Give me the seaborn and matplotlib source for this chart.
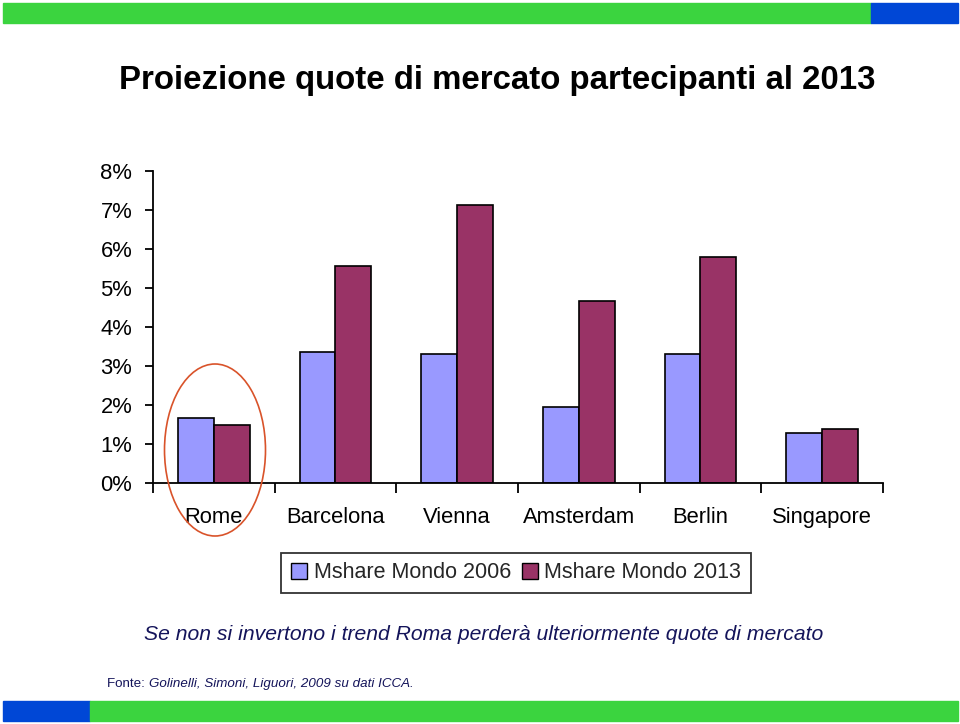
import numpy as np
import pandas as pd
import matplotlib.pyplot as plt
import seaborn as sns
from matplotlib.patches import Rectangle, Ellipse, Patch

# data (percent of world market)
cities = ['Rome', 'Barcelona', 'Vienna', 'Amsterdam', 'Berlin', 'Singapore']
share_2006 = [1.66, 3.36, 3.31, 1.96, 3.31, 1.27]
share_2013 = [1.48, 5.56, 7.13, 4.67, 5.79, 1.39]
series = ['Mshare Mondo 2006', 'Mshare Mondo 2013']
y_ticks = [0, 1, 2, 3, 4, 5, 6, 7, 8]

sns.set_style('white')
plt.rcParams['font.family'] = ['Liberation Sans', 'DejaVu Sans']

df = pd.DataFrame({
    'city': cities * 2,
    'share': share_2006 + share_2013,
    'serie': [series[0]] * len(cities) + [series[1]] * len(cities),
})
colors = {series[0]: '#9999ff', series[1]: '#993366'}

fig = plt.figure(figsize=(9.6, 7.24), dpi=100)
ax = fig.add_axes([153 / 960, 1 - 483 / 724, 730 / 960, 312 / 724])

sns.barplot(data=df, x='city', y='share', hue='serie', palette=colors,
            width=0.59, edgecolor='black', linewidth=1.2, saturation=1,
            legend=False, ax=ax)

ax.set_xlim(-0.5, len(cities) - 0.5)
ax.set_ylim(0, 8)
ax.set_yticks(y_ticks)
ax.set_yticklabels([f'{v}%' for v in y_ticks])
ax.set_xticks(np.arange(-0.5, len(cities), 1), minor=True)
ax.set_xlabel('')
ax.set_ylabel('')

for s in ['top', 'right']:
    ax.spines[s].set_visible(False)
for s in ['left', 'bottom']:
    ax.spines[s].set_color('black')
    ax.spines[s].set_linewidth(1.3)

ax.tick_params(axis='y', which='major', left=True, length=6, width=1.3,
               pad=9, labelsize=15.8, colors='black')
ax.tick_params(axis='x', which='major', length=0, pad=17, labelsize=15.8,
               colors='black')
ax.tick_params(axis='x', which='minor', bottom=True, length=7, width=1.3,
               color='black')

# legend
handles = [Patch(facecolor=colors[s], edgecolor='black', linewidth=1) for s in series]
leg = fig.legend(handles, series, loc='center', bbox_to_anchor=(516 / 960, 1 - 573 / 724),
                 ncol=2, fontsize=15.5, frameon=True, fancybox=False,
                 handlelength=0.75, handleheight=0.75, handletextpad=0.3,
                 columnspacing=0.5, borderpad=0.45, borderaxespad=0)
leg.get_frame().set_edgecolor('black')
leg.get_frame().set_linewidth(1.3)

# red circle around Rome
fig.patches.append(Ellipse((215 / 960, 1 - 450 / 724), 101 / 960, 172 / 724,
                           transform=fig.transFigure, fill=False,
                           edgecolor='#d9532a', linewidth=1.2))

# decorative bands top and bottom
fig.patches.append(Rectangle((3 / 960, 1 - 23 / 724), 868 / 960, 20 / 724,
                             transform=fig.transFigure, color='#3bd43f'))
fig.patches.append(Rectangle((871 / 960, 1 - 23 / 724), 87 / 960, 20 / 724,
                             transform=fig.transFigure, color='#0047d6'))
fig.patches.append(Rectangle((3 / 960, 1 - 721 / 724), 87 / 960, 20 / 724,
                             transform=fig.transFigure, color='#0047d6'))
fig.patches.append(Rectangle((90 / 960, 1 - 721 / 724), 868 / 960, 20 / 724,
                             transform=fig.transFigure, color='#3bd43f'))

fig.text(497 / 960, 1 - 80 / 724, 'Proiezione quote di mercato partecipanti al 2013',
         ha='center', va='center', fontsize=23.8, fontweight='bold', color='black')
fig.text(484 / 960, 1 - 635 / 724,
         'Se non si invertono i trend Roma perderà ulteriormente quote di mercato',
         ha='center', va='center', fontsize=15.2, fontstyle='italic', color='#14145a')
src = fig.text(107 / 960, 1 - 684 / 724, 'Fonte: ', ha='left', va='center',
               fontsize=9.6, color='#14145a')
fig.canvas.draw()
bb = src.get_window_extent()
fig.text(bb.x1 / 960, 1 - 684 / 724, 'Golinelli, Simoni, Liguori, 2009 su dati ICCA.',
         ha='left', va='center', fontsize=9.6, fontstyle='italic', color='#14145a')

fig.savefig('out.png', dpi=100)
